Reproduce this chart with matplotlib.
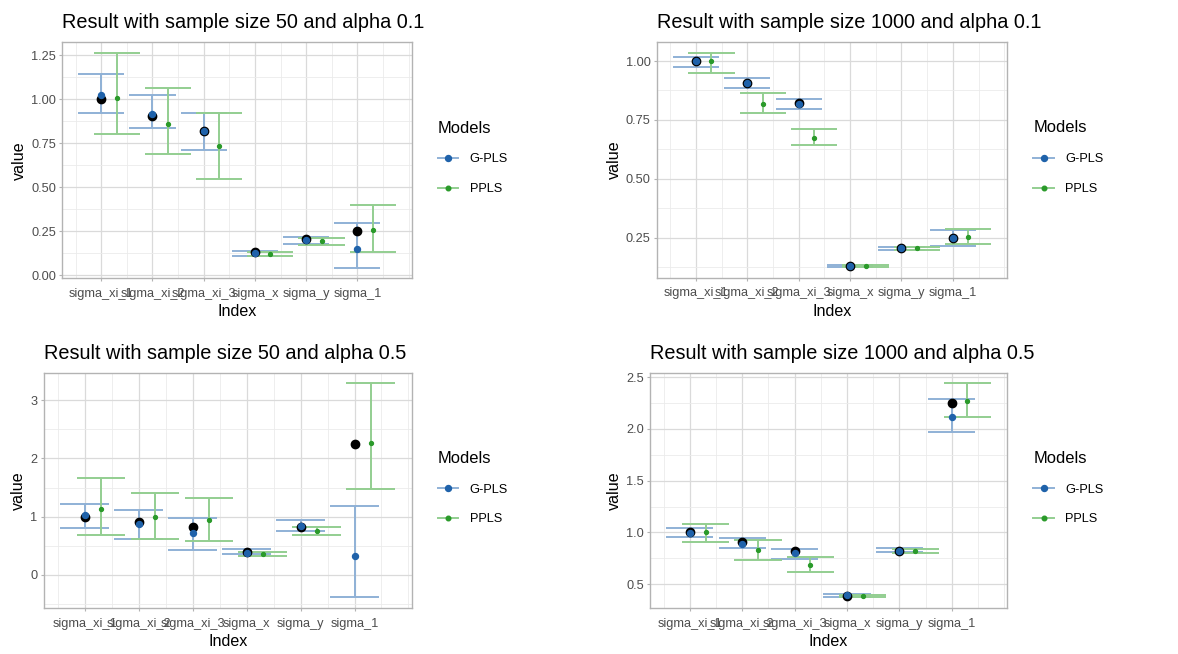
import numpy as np
import matplotlib
matplotlib.use("Agg")
import matplotlib.pyplot as plt
from matplotlib.lines import Line2D
from matplotlib.ticker import FormatStrFormatter, MultipleLocator, FixedLocator

plt.rcParams['font.family'] = ['Liberation Sans', 'DejaVu Sans']

# parameter names on the x axis
params = ['sigma_xi_1', 'sigma_xi_2', 'sigma_xi_3', 'sigma_x', 'sigma_y', 'sigma_1']

# true values (black points)
truth_a01 = [1.00, 0.905, 0.82, 0.13, 0.205, 0.25]
truth_a05 = [1.00, 0.905, 0.82, 0.385, 0.82, 2.25]

# n = 50, alpha = 0.1
gpls_50_01 = [1.023, 0.915, 0.82, 0.124, 0.200, 0.149]
gpls_50_01_lo = [0.923, 0.838, 0.712, 0.111, 0.179, 0.043]
gpls_50_01_hi = [1.145, 1.021, 0.919, 0.139, 0.217, 0.298]
ppls_50_01 = [1.004, 0.861, 0.733, 0.120, 0.192, 0.256]
ppls_50_01_lo = [0.800, 0.689, 0.544, 0.109, 0.171, 0.134]
ppls_50_01_hi = [1.262, 1.062, 0.923, 0.134, 0.211, 0.401]

# n = 1000, alpha = 0.1
gpls_1000_01 = [1.000, 0.905, 0.818, 0.130, 0.204, 0.248]
gpls_1000_01_lo = [0.975, 0.885, 0.798, 0.126, 0.196, 0.215]
gpls_1000_01_hi = [1.018, 0.926, 0.840, 0.134, 0.210, 0.282]
ppls_1000_01 = [0.999, 0.818, 0.673, 0.129, 0.205, 0.252]
ppls_1000_01_lo = [0.947, 0.781, 0.642, 0.125, 0.196, 0.222]
ppls_1000_01_hi = [1.034, 0.865, 0.710, 0.133, 0.209, 0.286]

# n = 50, alpha = 0.5
gpls_50_05 = [1.02, 0.876, 0.711, 0.38, 0.842, 0.324]
gpls_50_05_lo = [0.803, 0.609, 0.421, 0.353, 0.746, -0.387]
gpls_50_05_hi = [1.224, 1.11, 0.985, 0.45, 0.939, 1.178]
ppls_50_05 = [1.138, 0.996, 0.95, 0.353, 0.757, 2.26]
ppls_50_05_lo = [0.677, 0.620, 0.581, 0.324, 0.689, 1.468]
ppls_50_05_hi = [1.662, 1.411, 1.326, 0.393, 0.825, 3.29]

# n = 1000, alpha = 0.5
gpls_1000_05 = [0.995, 0.889, 0.80, 0.392, 0.825, 2.117]
gpls_1000_05_lo = [0.952, 0.845, 0.742, 0.379, 0.807, 1.974]
gpls_1000_05_hi = [1.04, 0.944, 0.841, 0.401, 0.851, 2.289]
ppls_1000_05 = [1.003, 0.828, 0.685, 0.385, 0.819, 2.270]
ppls_1000_05_lo = [0.911, 0.729, 0.615, 0.373, 0.799, 2.111]
ppls_1000_05_hi = [1.081, 0.923, 0.765, 0.395, 0.841, 2.439]

blue_pt = '#1F62AA'
blue_bar = '#8FB1D6'
green_pt = '#2A9A2A'
green_bar = '#93CE90'
grid_col = '#DADADA'
dodge = 0.3
half_w = 0.45

W, H = 1178, 654
fig = plt.figure(figsize=(W / 100, H / 100), dpi=100)

panels = [
    ("Result with sample size 50 and alpha 0.1", [0.0529, 0.5745, 0.2966, 0.3608],
     truth_a01, gpls_50_01, gpls_50_01_lo, gpls_50_01_hi, ppls_50_01, ppls_50_01_lo, ppls_50_01_hi,
     0.25, '%.2f'),
    ("Result with sample size 1000 and alpha 0.1", [0.5577, 0.5754, 0.2974, 0.3599],
     truth_a01, gpls_1000_01, gpls_1000_01_lo, gpls_1000_01_hi, ppls_1000_01, ppls_1000_01_lo, ppls_1000_01_hi,
     0.25, '%.2f'),
    ("Result with sample size 50 and alpha 0.5", [0.0371, 0.0703, 0.3124, 0.3598],
     truth_a05, gpls_50_05, gpls_50_05_lo, gpls_50_05_hi, ppls_50_05, ppls_50_05_lo, ppls_50_05_hi,
     1.0, '%d'),
    ("Result with sample size 1000 and alpha 0.5", [0.5518, 0.0703, 0.3033, 0.3598],
     truth_a05, gpls_1000_05, gpls_1000_05_lo, gpls_1000_05_hi, ppls_1000_05, ppls_1000_05_lo, ppls_1000_05_hi,
     0.5, '%.1f'),
]

x = np.arange(1, len(params) + 1)

for (title, rect, truth, g, glo, ghi, p, plo, phi, step, fmt) in panels:
    ax = fig.add_axes(rect)
    xp = x + dodge

    # error bars
    ax.vlines(x, glo, ghi, color=blue_bar, lw=1.4, zorder=2)
    ax.hlines(glo, x - half_w, x + half_w, color=blue_bar, lw=1.4, zorder=2)
    ax.hlines(ghi, x - half_w, x + half_w, color=blue_bar, lw=1.4, zorder=2)
    ax.vlines(xp, plo, phi, color=green_bar, lw=1.4, zorder=2)
    ax.hlines(plo, xp - half_w, xp + half_w, color=green_bar, lw=1.4, zorder=2)
    ax.hlines(phi, xp - half_w, xp + half_w, color=green_bar, lw=1.4, zorder=2)

    # points
    ax.plot(x, truth, 'o', color='black', ms=6, zorder=3)
    ax.plot(x, g, 'o', color=blue_pt, ms=4.3, zorder=4)
    ax.plot(xp, p, 'o', color=green_pt, ms=2.8, zorder=5)

    ax.margins(x=0.05, y=0.05)
    ax.set_xticks(x)
    ax.set_xticklabels(params)
    ax.xaxis.set_minor_locator(FixedLocator(list(np.arange(0.5, 7.01, 0.5))))
    ax.yaxis.set_major_locator(MultipleLocator(step))
    ax.yaxis.set_minor_locator(MultipleLocator(step / 2))
    ax.yaxis.set_major_formatter(FormatStrFormatter(fmt))

    ax.grid(True, which='major', color=grid_col, lw=0.9)
    ax.grid(True, which='minor', color='#EBEBEB', lw=0.6)
    ax.set_axisbelow(True)
    for s in ax.spines.values():
        s.set_color('#B3B3B3')
        s.set_linewidth(1.0)
    ax.tick_params(which='major', length=2.5, color='#B3B3B3', labelsize=9.2,
                   labelcolor='#4D4D4D')
    ax.tick_params(axis='x', which='major', pad=4.5)
    ax.tick_params(axis='y', which='major', pad=2)
    ax.tick_params(which='minor', length=0)

    ax.set_xlabel('Index', fontsize=11.6, labelpad=3)
    ax.set_ylabel('value', fontsize=11.6, labelpad=3)
    ax.set_title(title, loc='left', fontsize=14.3, pad=10)

    handles = [
        Line2D([0], [0], color=blue_bar, lw=1.4, marker='o', ms=4.3,
               markerfacecolor=blue_pt, markeredgecolor=blue_pt),
        Line2D([0], [0], color=green_bar, lw=1.4, marker='o', ms=3.3,
               markerfacecolor=green_pt, markeredgecolor=green_pt),
    ]
    ax_w = rect[2] * W
    ax.legend(handles, ['G-PLS', 'PPLS'], title='Models', loc='center left',
              bbox_to_anchor=(1 + 21 / ax_w, 0.51), frameon=False, fontsize=9.2,
              title_fontsize=11.9, handlelength=1.6, handletextpad=0.9,
              labelspacing=1.4, alignment='left', borderaxespad=0)

fig.savefig('out.png', dpi=100, facecolor='white')
